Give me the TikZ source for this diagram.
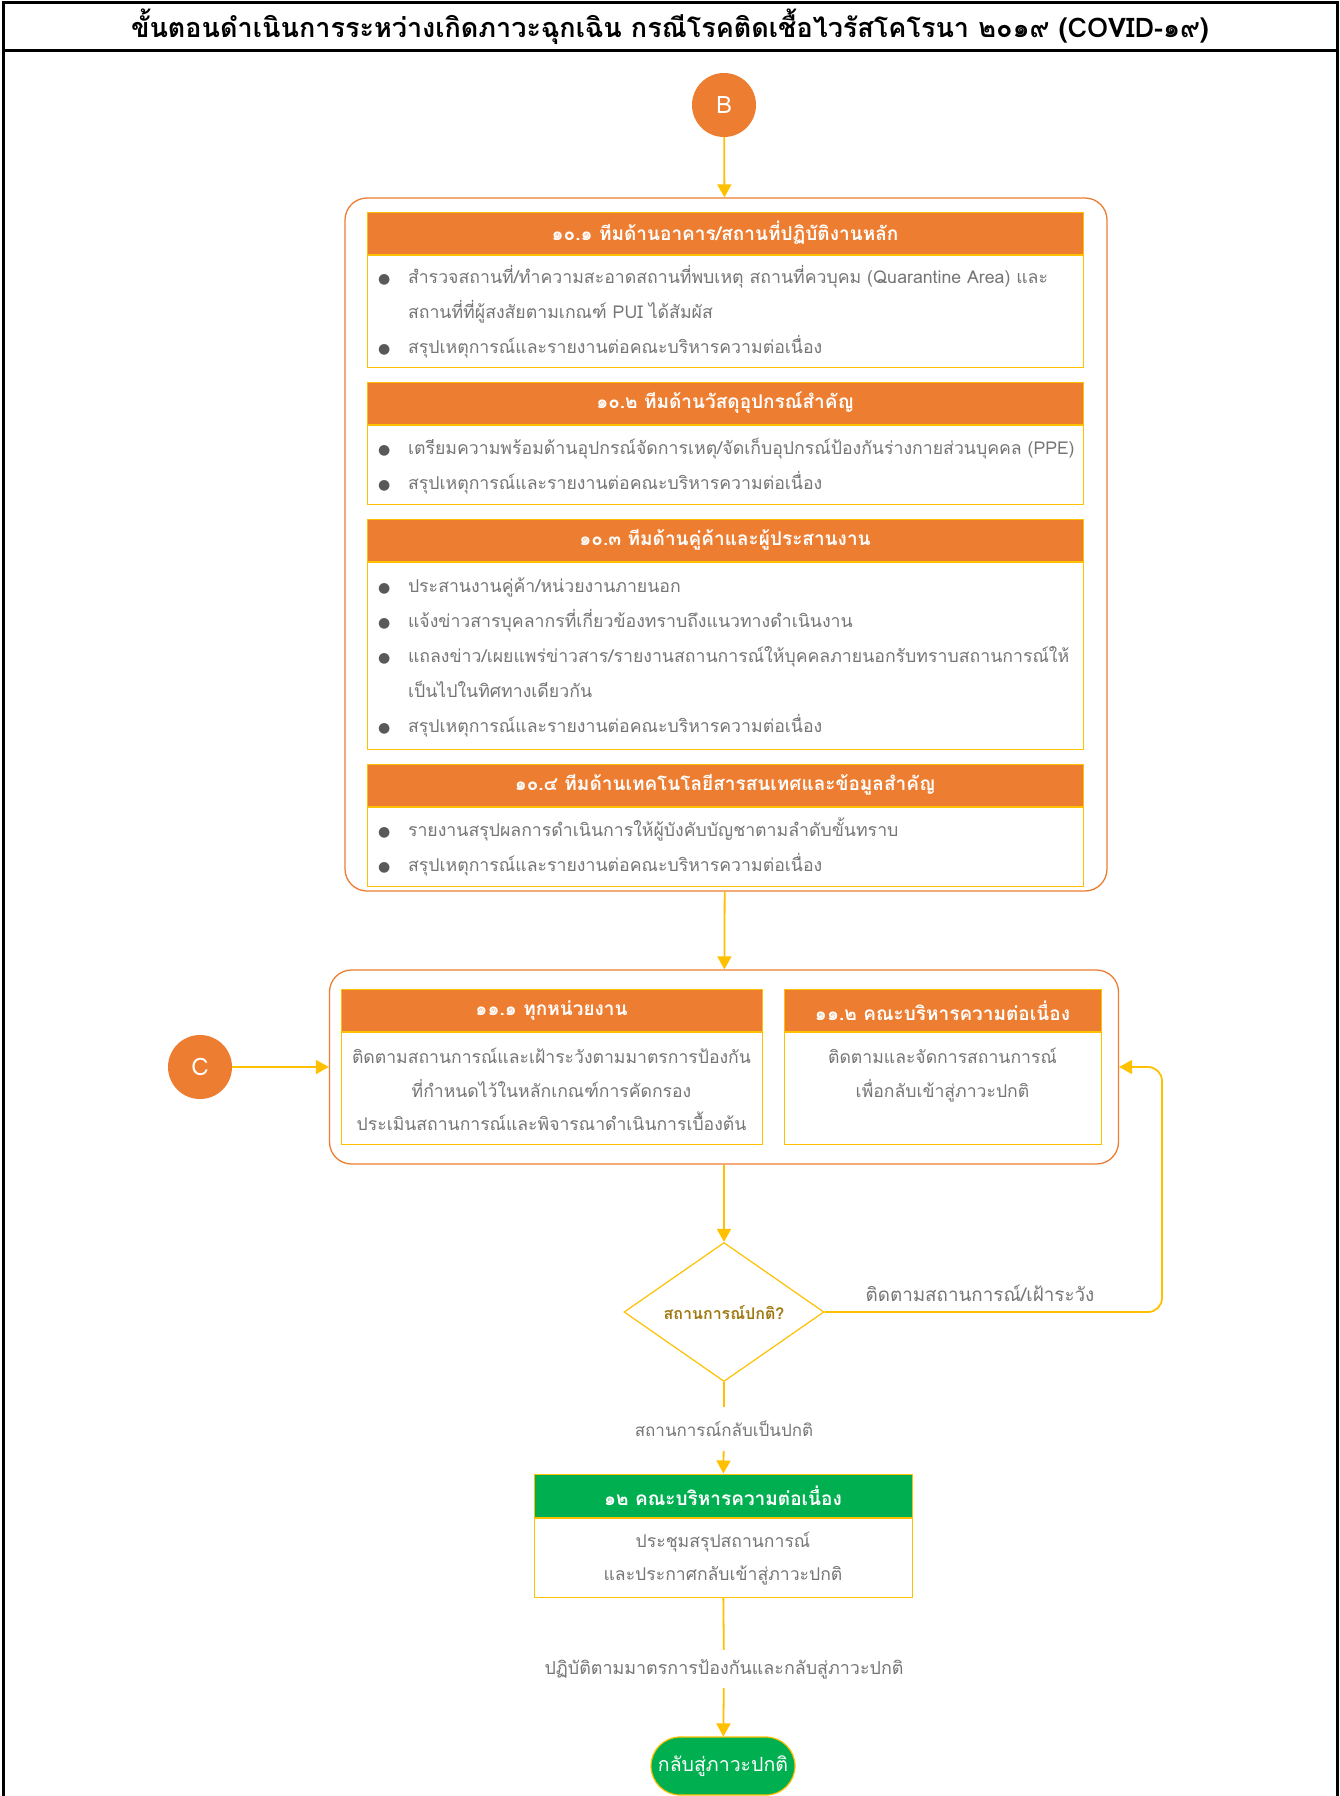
\documentclass[tikz,border=0pt]{standalone}
\usepackage{fontspec}
\setmainfont{Loma}[Script=Thai]
\newfontfamily\symfont{DejaVu Sans}
\usepackage{tikz}
\usetikzlibrary{arrows.meta,positioning,shapes.geometric}
\definecolor{orn}{HTML}{ED7D31}
\definecolor{ylw}{HTML}{FFC000}
\definecolor{grn}{HTML}{00B050}
\definecolor{txt}{HTML}{757575}
\definecolor{dotc}{HTML}{595959}
\definecolor{gold}{HTML}{A07810}
\newcommand{\bdfont}{\fontsize{17.7}{35}\selectfont}
\newcommand{\cefont}{\fontsize{17.6}{33.5}\selectfont}
\newcommand{\hdfont}{\fontsize{19}{24}\selectfont\bfseries}
\newcommand{\dotmark}{{\symfont\fontsize{14}{14}\selectfont\textcolor{dotc}{●}}}

\begin{document}
\begin{tikzpicture}[x=1pt,y=-1pt,
  frm/.style={line width=3pt},
  grp/.style={draw=orn,line width=1.3pt,rounded corners=22pt},
  hd/.style={fill=orn,draw=ylw,line width=1pt,minimum height=42pt,inner sep=0pt,text=white,font=\hdfont},
  gh/.style={hd,fill=grn},
  bd/.style={draw=ylw,line width=1pt,inner sep=0pt,text=txt,font=\bdfont},
  lst/.style={bd,minimum width=716pt,text width=694pt,align=left},
  cir/.style={circle,fill=orn,minimum size=64pt,inner sep=0pt,text=white,font=\fontsize{24}{24}\selectfont},
  dia/.style={diamond,draw=ylw,line width=1.2pt,minimum width=200pt,minimum height=139pt,inner sep=0pt,aspect=1.44,text=gold,font=\fontsize{16}{16}\selectfont\bfseries},
  lab/.style={text=txt,inner sep=0pt},
  pill/.style={rounded corners=29pt,fill=grn,draw=ylw,line width=1.2pt,minimum width=144pt,minimum height=58pt,text=white,font=\fontsize{19.5}{19.5}\selectfont},
  ln/.style={draw=ylw,line width=1.8pt},
  ar/.style={ln,-{Triangle[length=13pt,width=14pt]}}
]
\useasboundingbox (0,0) rectangle (1340,1796);
\draw[frm] (3,1800) -- (3,2) -- (1337,2) -- (1337,1800);
\draw[frm] (3,50) -- (1337,50);
\node[font=\fontsize{27}{27}\selectfont\bfseries] (ttl) at (670,27) {ขั้นตอนดำเนินการระหว่างเกิดภาวะฉุกเฉิน กรณีโรคติดเชื้อไวรัสโคโรนา ๒๐๑๙ (COVID-๑๙)};

\node[cir] (B) at (724,105) {B};
\node[grp,minimum width=762pt,minimum height=693pt] (g1) at (726,544.5) {};
\node[hd,minimum width=716pt] (h1) at (725,233) {๑๐.๑ ทีมด้านอาคาร/สถานที่ปฏิบัติงานหลัก};
\node[lst,minimum height=112pt,below=0pt of h1] (b1) {\begin{tabular}{@{}p{30pt}@{}l@{}}
\dotmark & สำรวจสถานที่/ทำความสะอาดสถานที่พบเหตุ สถานที่ควบุคม (Quarantine Area) และ\\
 & สถานที่ที่ผู้สงสัยตามเกณฑ์ PUI ได้สัมผัส\\
\dotmark & สรุปเหตุการณ์และรายงานต่อคณะบริหารความต่อเนื่อง
\end{tabular}};
\node[hd,minimum width=716pt,below=14pt of b1] (h2) {๑๐.๒ ทีมด้านวัสดุอุปกรณ์สำคัญ};
\node[lst,minimum height=79pt,below=0pt of h2] (b2) {\begin{tabular}{@{}p{30pt}@{}l@{}}
\dotmark & เตรียมความพร้อมด้านอุปกรณ์จัดการเหตุ/จัดเก็บอุปกรณ์ป้องกันร่างกายส่วนบุคคล (PPE)\\
\dotmark & สรุปเหตุการณ์และรายงานต่อคณะบริหารความต่อเนื่อง
\end{tabular}};
\node[hd,minimum width=716pt,below=14pt of b2] (h3) {๑๐.๓ ทีมด้านคู่ค้าและผู้ประสานงาน};
\node[lst,minimum height=187pt,below=0pt of h3] (b3) {\begin{tabular}{@{}p{30pt}@{}l@{}}
\dotmark & ประสานงานคู่ค้า/หน่วยงานภายนอก\\
\dotmark & แจ้งข่าวสารบุคลากรที่เกี่ยวข้องทราบถึงแนวทางดำเนินงาน\\
\dotmark & แถลงข่าว/เผยแพร่ข่าวสาร/รายงานสถานการณ์ให้บุคคลภายนอกรับทราบสถานการณ์ให้\\
 & เป็นไปในทิศทางเดียวกัน\\
\dotmark & สรุปเหตุการณ์และรายงานต่อคณะบริหารความต่อเนื่อง
\end{tabular}};
\node[hd,minimum width=716pt,below=14pt of b3] (h4) {๑๐.๔ ทีมด้านเทคโนโลยีสารสนเทศและข้อมูลสำคัญ};
\node[lst,minimum height=79pt,below=0pt of h4] (b4) {\begin{tabular}{@{}p{30pt}@{}l@{}}
\dotmark & รายงานสรุปผลการดำเนินการให้ผู้บังคับบัญชาตามลำดับขั้นทราบ\\
\dotmark & สรุปเหตุการณ์และรายงานต่อคณะบริหารความต่อเนื่อง
\end{tabular}};

\node[grp,minimum width=789pt,minimum height=194pt] (g2) at (724,1067) {};
\node[hd,minimum width=421pt] (h11) at (551.5,1010.5) {๑๑.๑ ทุกหน่วยงาน};
\node[bd,minimum width=421pt,minimum height=112pt,below=0pt of h11] (b11) {\parbox[c][96pt][t]{410pt}{\centering\cefont\strut ติดตามสถานการณ์และเฝ้าระวังตามมาตรการป้องกัน\\ที่กำหนดไว้ในหลักเกณฑ์การคัดกรอง\\ประเมินสถานการณ์และพิจารณาดำเนินการเบื้องต้น}};
\node[hd,minimum width=317pt] (h12) at (942.5,1010.5) {๑๑.๒ คณะบริหารความต่อเนื่อง};
\node[bd,minimum width=317pt,minimum height=112pt,below=0pt of h12] (b12) {\parbox[c][96pt][t]{305pt}{\centering\cefont\strut ติดตามและจัดการสถานการณ์\\เพื่อกลับเข้าสู่ภาวะปกติ}};
\node[cir] (C) at (200,1067) {C};

\node[dia] (d) at (724,1312) {สถานการณ์ปกติ?};
\node[lab,font=\fontsize{18.8}{20}\selectfont] (l1) at (980,1293) {ติดตามสถานการณ์/เฝ้าระวัง};
\coordinate (lp) at (1162,1190);
\node[lab,font=\fontsize{17}{20}\selectfont,minimum height=44pt] (l2) at (724,1429) {สถานการณ์กลับเป็นปกติ};
\node[gh,minimum width=378pt,minimum height=43pt] (h5) at (723,1495.5) {๑๒ คณะบริหารความต่อเนื่อง};
\node[bd,minimum width=378pt,minimum height=79pt,below=0pt of h5] (b5) {\cefont\begin{tabular}{@{}c@{}}ประชุมสรุปสถานการณ์\\และประกาศกลับเข้าสู่ภาวะปกติ\end{tabular}};
\node[lab,font=\fontsize{17.9}{20}\selectfont,minimum height=38pt] (l3) at (724,1669) {ปฏิบัติตามมาตรการป้องกันและกลับสู่ภาวะปกติ};
\node[pill] (e) at (723,1766) {กลับสู่ภาวะปกติ};

\draw[ar] (B) -- (g1);
\draw[ar] (g1) -- (g2);
\draw[ar] (C) -- (g2.west);
\draw[ar] (g2) -- (d);
\draw[ar,rounded corners=14pt] (d.east) -| (lp) |- (g2.east);
\draw[ln] (d) -- (l2);
\draw[ar] (l2) -- (h5);
\draw[ln] (b5) -- (l3);
\draw[ar] (l3) -- (e);
\end{tikzpicture}
\end{document}
